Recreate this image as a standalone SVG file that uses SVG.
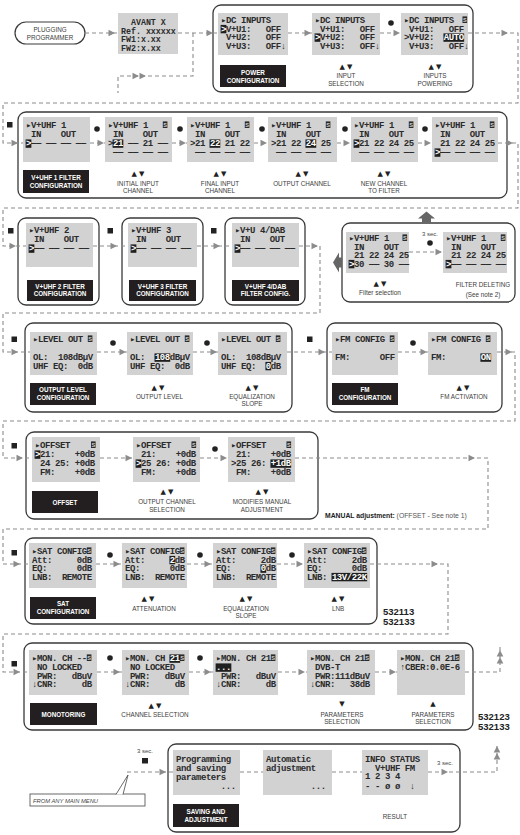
<svg xmlns="http://www.w3.org/2000/svg" xmlns:xlink="http://www.w3.org/1999/xlink" width="520" height="835" viewBox="0 0 520 835">
<style>
.scr{fill:#d2d2d2}
.t{font-family:"Liberation Mono","DejaVu Sans Mono",monospace;font-weight:bold;font-size:9px;letter-spacing:-0.42px;fill:#2b2b2b}
.s{font-size:8.3px;letter-spacing:0}
.w{fill:#fff}
.hl{fill:#1f1f1f}
.frm{fill:#fff;stroke:#3a3a3a;stroke-width:1.3}
.lb{fill:#231f20}
.lt{font-family:"Liberation Sans",Arial,sans-serif;font-weight:bold;font-size:6.3px;fill:#fff;text-anchor:middle}
.cap{font-family:"Liberation Sans",Arial,sans-serif;font-size:6.3px;fill:#3d3d3d;text-anchor:middle}
.ud{font-family:"DejaVu Sans",sans-serif;font-size:7px;fill:#222;text-anchor:middle}
.cn path{fill:none;stroke:#8c8c8c;stroke-width:1.1;stroke-dasharray:4 3}
.ah{fill:#8c8c8c}
.sq{fill:#222}
.num{font-family:"Liberation Sans",Arial,sans-serif;font-weight:bold;font-size:9.5px;fill:#222}
.sec{font-family:"Liberation Sans",Arial,sans-serif;font-size:6px;fill:#444;text-anchor:middle}
</style>
<defs>
<path id="a" class="ah" d="M-6.5,-3.3 L0,0 L-6.5,3.3 z"/>
<g id="ic"><rect width="4.6" height="6.6" fill="#2b2b2b"/><text x="2.3" y="5.5" font-family="Liberation Sans,sans-serif" font-weight="bold" font-size="5.6" fill="#d2d2d2" text-anchor="middle">S</text></g>
</defs>
<rect width="520" height="835" fill="#fff"/>

<!-- Row 1 -->
<g id="plugging">
<rect x="15" y="22" width="70" height="22" rx="11" fill="#fff" stroke="#3a3a3a" stroke-width="1.2"/>
<text class="cap" x="50" y="31.5">PLUGGING</text>
<text class="cap" x="50" y="39.5">PROGRAMMER</text>
</g>
<g id="avant" transform="translate(118,13)">
<rect class="scr" width="60" height="41"/>
<text class="t s" x="12.96" y="12">AVANT&#160;X</text>
<text class="t s" x="3" y="20.7">Ref.&#160;xxxxxx</text>
<text class="t s" x="3" y="29.4">FW1:x.xx</text>
<text class="t s" x="3" y="38.1">FW2:x.xx</text>
</g>
<g id="dc-inputs">
<rect class="frm" x="213" y="5" width="260" height="87" rx="8"/>
<g transform="translate(218,13)">
<rect class="scr" width="70" height="42"/>
<text class="t" x="3" y="10">▸DC&#160;INPUTS</text>
<rect class="hl" x="2.6" y="11.9" width="5.78" height="8.4"/><text class="t w" x="3" y="18.5">&gt;</text>
<text class="t" x="7.98" y="18.5">V+U1:&#160;&#160;&#160;OFF</text>
<text class="t" x="7.98" y="27">V+U2:&#160;&#160;&#160;OFF</text>
<text class="t" x="7.98" y="35.5">V+U3:&#160;&#160;&#160;OFF↓</text>
</g>
<rect class="lb" x="220" y="65" width="66" height="22"/>
<text class="lt" x="253" y="74.5">POWER</text>
<text class="lt" x="253" y="82.5">CONFIGURATION</text>
<g transform="translate(312,13)">
<rect class="scr" width="68" height="42"/>
<text class="t" x="3" y="10">▸DC&#160;INPUTS</text>
<text class="t" x="7.98" y="18.5">V+U1:&#160;&#160;&#160;OFF</text>
<rect class="hl" x="2.6" y="20.4" width="5.78" height="8.4"/><text class="t w" x="3" y="27">&gt;</text>
<text class="t" x="7.98" y="27">V+U2:&#160;&#160;&#160;OFF</text>
<text class="t" x="7.98" y="35.5">V+U3:&#160;&#160;&#160;OFF↓</text>
</g>
<text class="ud" x="346" y="69">▲ ▼</text>
<text class="cap" x="346" y="78">INPUT</text>
<text class="cap" x="346" y="85.5">SELECTION</text>
<circle cx="391" cy="23" r="2.8" class="sq"/>
<g transform="translate(401,13)">
<rect class="scr" width="67" height="42"/>
<text class="t" x="3" y="10">▸DC&#160;INPUTS</text><use href="#ic" x="61.5" y="3.4"/>
<text class="t" x="7.98" y="18.5">V+U1:&#160;&#160;&#160;OFF</text>
<text class="t" x="3" y="27">&gt;V+U2:</text>
<rect class="hl" x="42.44" y="20.4" width="20.72" height="8.4"/><text class="t w" x="42.84" y="27">AUTO</text>
<text class="t" x="7.98" y="35.5">V+U3:&#160;&#160;&#160;OFF↓</text>
</g>
<text class="ud" x="435" y="69">▲ ▼</text>
<text class="cap" x="435" y="78">INPUTS</text>
<text class="cap" x="435" y="85.5">POWERING</text>
</g>

<!-- Row 2 -->
<g id="uhf1">
<rect class="frm" x="18" y="112" width="489" height="86" rx="8"/>
<g transform="translate(23,117)">
<rect class="scr" width="67" height="45"/>
<text class="t" x="3" y="11">▸V+UHF&#160;1</text>
<text class="t" x="7.98" y="20">IN&#160;&#160;&#160;&#160;OUT</text>
<rect class="hl" x="2.6" y="22.4" width="5.78" height="8.4"/><text class="t w" x="3" y="29">&gt;</text>
<text class="t" x="7.98" y="29">——&#160;——&#160;——&#160;——</text>
</g>
<rect class="lb" x="23" y="170" width="66" height="23"/>
<text class="lt" x="56" y="179.5">V+UHF 1 FILTER</text>
<text class="lt" x="56" y="187.5">CONFIGURATION</text>
<circle cx="97" cy="129" r="2.8" class="sq"/>
<g transform="translate(105,117)">
<rect class="scr" width="67" height="45"/>
<text class="t" x="3" y="11">▸V+UHF&#160;1</text><use href="#ic" x="57.8" y="4.4"/>
<text class="t" x="7.98" y="20">IN&#160;&#160;&#160;&#160;OUT</text>
<text class="t" x="3" y="29">&gt;</text>
<rect class="hl" x="7.58" y="22.4" width="10.76" height="8.4"/><text class="t w" x="7.98" y="29">21</text>
<text class="t" x="22.92" y="29">——&#160;21&#160;——</text>
<text class="t" x="7.98" y="38">——&#160;——&#160;——&#160;——</text>
</g>
<text class="ud" x="138" y="175.5">▲ ▼</text>
<text class="cap" x="138" y="185.5">INITIAL INPUT</text>
<text class="cap" x="138" y="192.5">CHANNEL</text>
<circle cx="180" cy="129" r="2.8" class="sq"/>
<g transform="translate(187,117)">
<rect class="scr" width="67" height="45"/>
<text class="t" x="3" y="11">▸V+UHF&#160;1</text><use href="#ic" x="57.8" y="4.4"/>
<text class="t" x="7.98" y="20">IN&#160;&#160;&#160;&#160;OUT</text>
<text class="t" x="3" y="29">&gt;21</text>
<rect class="hl" x="22.52" y="22.4" width="10.76" height="8.4"/><text class="t w" x="22.92" y="29">22</text>
<text class="t" x="37.86" y="29">21&#160;22</text>
<text class="t" x="7.98" y="38">——&#160;——&#160;——&#160;——</text>
</g>
<text class="ud" x="220" y="175.5">▲ ▼</text>
<text class="cap" x="220" y="185.5">FINAL INPUT</text>
<text class="cap" x="220" y="192.5">CHANNEL</text>
<circle cx="262" cy="129" r="2.8" class="sq"/>
<g transform="translate(268,117)">
<rect class="scr" width="69" height="45"/>
<text class="t" x="3" y="11">▸V+UHF&#160;1</text><use href="#ic" x="57.8" y="4.4"/>
<text class="t" x="7.98" y="20">IN&#160;&#160;&#160;&#160;OUT</text>
<text class="t" x="3" y="29">&gt;21&#160;22</text>
<rect class="hl" x="37.46" y="22.4" width="10.76" height="8.4"/><text class="t w" x="37.86" y="29">24</text>
<text class="t" x="52.8" y="29">25</text>
<text class="t" x="7.98" y="38">——&#160;——&#160;——&#160;——</text>
</g>
<text class="ud" x="302" y="175.5">▲ ▼</text>
<text class="cap" x="302" y="185.5">OUTPUT CHANNEL</text>
<circle cx="345" cy="129" r="2.8" class="sq"/>
<g transform="translate(351,117)">
<rect class="scr" width="67" height="45"/>
<text class="t" x="3" y="11">▸V+UHF&#160;1</text><use href="#ic" x="57.8" y="4.4"/>
<text class="t" x="7.98" y="20">IN&#160;&#160;&#160;&#160;OUT</text>
<rect class="hl" x="2.6" y="22.4" width="5.78" height="8.4"/><text class="t w" x="3" y="29">&gt;</text>
<text class="t" x="7.98" y="29">21&#160;22&#160;24&#160;25</text>
<text class="t" x="7.98" y="38">——&#160;——&#160;——&#160;——</text>
</g>
<text class="ud" x="384" y="175.5">▲ ▼</text>
<text class="cap" x="384" y="185.5">NEW CHANNEL</text>
<text class="cap" x="384" y="192.5">TO FILTER</text>
<circle cx="425" cy="129" r="2.8" class="sq"/>
<g transform="translate(432,117)">
<rect class="scr" width="66" height="45"/>
<text class="t" x="3" y="11">▸V+UHF&#160;1</text><use href="#ic" x="57.8" y="4.4"/>
<text class="t" x="7.98" y="20">IN&#160;&#160;&#160;&#160;OUT</text>
<text class="t" x="7.98" y="29">21&#160;22&#160;24&#160;25</text>
<rect class="hl" x="2.6" y="31.4" width="5.78" height="8.4"/><text class="t w" x="3" y="38">&gt;</text>
<text class="t" x="7.98" y="38">——&#160;——&#160;——&#160;——</text>
</g>
</g>
<rect class="sq" x="7" y="122" width="5.5" height="5.5"/>

<!-- Row 3 -->
<g id="uhf2">
<rect class="frm" x="18" y="218" width="81" height="87" rx="8"/>
<g transform="translate(26,223)">
<rect class="scr" width="67" height="44"/>
<text class="t" x="3" y="10">▸V+UHF&#160;2</text>
<text class="t" x="7.98" y="19">IN&#160;&#160;&#160;&#160;OUT</text>
<rect class="hl" x="2.6" y="21.4" width="5.78" height="8.4"/><text class="t w" x="3" y="28">&gt;</text>
<text class="t" x="7.98" y="28">——&#160;——&#160;——&#160;——</text>
</g>
<rect class="lb" x="27" y="280" width="66" height="21"/>
<text class="lt" x="60" y="288.5">V+UHF 2 FILTER</text>
<text class="lt" x="60" y="296">CONFIGURATION</text>
</g>
<g id="uhf3">
<rect class="frm" x="122" y="218" width="81" height="87" rx="8"/>
<g transform="translate(128,223)">
<rect class="scr" width="69" height="44"/>
<text class="t" x="3" y="10">▸V+UHF&#160;3</text>
<text class="t" x="7.98" y="19">IN&#160;&#160;&#160;&#160;OUT</text>
<rect class="hl" x="2.6" y="21.4" width="5.78" height="8.4"/><text class="t w" x="3" y="28">&gt;</text>
<text class="t" x="7.98" y="28">——&#160;——&#160;——&#160;——</text>
</g>
<rect class="lb" x="129" y="280" width="67" height="21"/>
<text class="lt" x="162.5" y="288.5">V+UHF 3 FILTER</text>
<text class="lt" x="162.5" y="296">CONFIGURATION</text>
</g>
<g id="uhf4">
<rect class="frm" x="225" y="218" width="80" height="87" rx="8"/>
<g transform="translate(232,223)">
<rect class="scr" width="67" height="44"/>
<text class="t" x="3" y="10">▸V+U&#160;4/DAB</text>
<text class="t" x="7.98" y="19">IN&#160;&#160;&#160;&#160;OUT</text>
<rect class="hl" x="2.6" y="21.4" width="5.78" height="8.4"/><text class="t w" x="3" y="28">&gt;</text>
<text class="t" x="7.98" y="28">——&#160;——&#160;——&#160;——</text>
</g>
<rect class="lb" x="232" y="280" width="67" height="21"/>
<text class="lt" x="265.5" y="288.5">V+UHF 4/DAB</text>
<text class="lt" x="265.5" y="296">FILTER CONFIG.</text>
</g>
<rect class="sq" x="8" y="228" width="5.5" height="5.5"/>
<rect class="sq" x="107.5" y="228" width="5.5" height="5.5"/>
<rect class="sq" x="211" y="228" width="5.5" height="5.5"/>
<g id="filter-delete">
<rect class="frm" x="342" y="223" width="173" height="79" rx="8"/>
<g transform="translate(346,232)">
<rect class="scr" width="63" height="41"/>
<text class="t" x="3" y="9">▸V+UHF&#160;1</text><use href="#ic" x="56.5" y="2.4"/>
<text class="t" x="7.98" y="17.5">IN&#160;&#160;&#160;&#160;OUT</text>
<text class="t" x="7.98" y="26">21&#160;22&#160;24&#160;25</text>
<rect class="hl" x="2.6" y="27.9" width="5.78" height="8.4"/><text class="t w" x="3" y="34.5">&gt;</text>
<text class="t" x="7.98" y="34.5">30&#160;——&#160;30&#160;——</text>
</g>
<text class="sec" x="430" y="236">3 sec.</text>
<circle cx="430" cy="243" r="2.8" class="sq"/>
<g transform="translate(443,232)">
<rect class="scr" width="64" height="41"/>
<text class="t" x="3" y="9">▸V+UHF&#160;1</text><use href="#ic" x="57.8" y="2.4"/>
<text class="t" x="7.98" y="17.5">IN&#160;&#160;&#160;&#160;OUT</text>
<text class="t" x="7.98" y="26">21&#160;22&#160;24&#160;25</text>
<rect class="hl" x="2.6" y="27.9" width="5.78" height="8.4"/><text class="t w" x="3" y="34.5">&gt;</text>
<text class="t" x="7.98" y="34.5">——&#160;——&#160;——&#160;——</text>
</g>
<text class="ud" x="380" y="285.5">▲ ▼</text>
<text class="cap" x="380" y="295" style="font-size:6.5px">Filter selection</text>
<text class="cap" x="483" y="287">FILTER DELETING</text>
<text class="cap" x="483" y="296.5">(See note 2)</text>
<path d="M418,218.5 L426.5,211.5 L435,218.5 L431,218.5 L431,222.5 L422,222.5 L422,218.5 Z" fill="#666"/>
<path d="M333,262.5 L339,252.5 L339,257.5 L342,257.5 L342,267.5 L339,267.5 L339,272.5 Z" fill="#666"/>
</g>

<!-- Row 4 -->
<g id="level-out">
<rect class="frm" x="25" y="323" width="267" height="89" rx="8"/>
<g transform="translate(30,332)">
<rect class="scr" width="67" height="43"/>
<text class="t" x="3" y="10">▸LEVEL&#160;OUT</text><use href="#ic" x="57.8" y="3.4"/>
<text class="t" x="3" y="28">OL:&#160;&#160;108dBµV</text>
<text class="t" x="3" y="36.5">UHF&#160;EQ:&#160;&#160;0dB</text>
</g>
<rect class="lb" x="30" y="383" width="66" height="22"/>
<text class="lt" x="63" y="392">OUTPUT LEVEL</text>
<text class="lt" x="63" y="400">CONFIGURATION</text>
<circle cx="113" cy="343" r="2.8" class="sq"/>
<g transform="translate(127,332)">
<rect class="scr" width="66" height="43"/>
<text class="t" x="3" y="10">▸LEVEL&#160;OUT</text><use href="#ic" x="57.8" y="3.4"/>
<text class="t" x="3" y="28">OL:</text>
<rect class="hl" x="27.5" y="21.4" width="15.74" height="8.4"/><text class="t w" x="27.9" y="28">108</text>
<text class="t" x="42.84" y="28">dBµV</text>
<text class="t" x="3" y="36.5">UHF&#160;EQ:&#160;&#160;0dB</text>
</g>
<text class="ud" x="158" y="389.5">▲ ▼</text>
<text class="cap" x="159.5" y="398.5">OUTPUT LEVEL</text>
<circle cx="207" cy="343" r="2.8" class="sq"/>
<g transform="translate(218,332)">
<rect class="scr" width="69" height="43"/>
<text class="t" x="3" y="10">▸LEVEL&#160;OUT</text><use href="#ic" x="57.8" y="3.4"/>
<text class="t" x="3" y="28">OL:&#160;&#160;108dBµV</text>
<text class="t" x="3" y="36.5">UHF&#160;EQ:</text>
<rect class="hl" x="47.42" y="29.9" width="5.78" height="8.4"/><text class="t w" x="47.82" y="36.5">0</text>
<text class="t" x="52.8" y="36.5">dB</text>
</g>
<text class="ud" x="252" y="389.5">▲ ▼</text>
<text class="cap" x="252" y="398.5">EQUALIZATION</text>
<text class="cap" x="252" y="405.5">SLOPE</text>
</g>
<g id="fm-config">
<rect class="frm" x="327" y="323" width="175" height="89" rx="8"/>
<g transform="translate(332,332)">
<rect class="scr" width="66" height="43"/>
<text class="t" x="3" y="10">▸FM&#160;CONFIG</text><use href="#ic" x="57.8" y="3.4"/>
<text class="t" x="3" y="28">FM:&#160;&#160;&#160;&#160;&#160;&#160;OFF</text>
</g>
<rect class="lb" x="332" y="383" width="66" height="22"/>
<text class="lt" x="365" y="392">FM</text>
<text class="lt" x="365" y="400">CONFIGURATION</text>
<circle cx="413" cy="343" r="2.8" class="sq"/>
<g transform="translate(428,332)">
<rect class="scr" width="69" height="43"/>
<text class="t" x="3" y="10">▸FM&#160;CONFIG</text><use href="#ic" x="57.8" y="3.4"/>
<text class="t" x="3" y="28">FM:</text>
<rect class="hl" x="52.4" y="21.4" width="10.76" height="8.4"/><text class="t w" x="52.8" y="28">ON</text>
</g>
<text class="ud" x="463" y="389.5">▲ ▼</text>
<text class="cap" x="464" y="398.5">FM ACTIVATION</text>
</g>
<rect class="sq" x="11.5" y="336.5" width="5.5" height="5.5"/>
<rect class="sq" x="307" y="336.5" width="5.5" height="5.5"/>

<!-- Row 5 -->
<g id="offset">
<rect class="frm" x="26" y="432" width="292" height="87" rx="8"/>
<g transform="translate(32,437)">
<rect class="scr" width="68" height="45"/>
<text class="t" x="3" y="11">▸OFFSET</text><use href="#ic" x="59" y="4.4"/>
<rect class="hl" x="2.6" y="13.4" width="5.78" height="8.4"/><text class="t w" x="3" y="20">&gt;</text>
<text class="t" x="7.98" y="20">21:&#160;&#160;&#160;&#160;+0dB</text>
<text class="t" x="7.98" y="29">24&#160;25:&#160;+0dB</text>
<text class="t" x="7.98" y="38">FM:&#160;&#160;&#160;&#160;+0dB</text>
</g>
<rect class="lb" x="32" y="491" width="66" height="22"/>
<text class="lt" x="65" y="504.5">OFFSET</text>
<g transform="translate(133,437)">
<rect class="scr" width="67" height="45"/>
<text class="t" x="3" y="11">▸OFFSET</text><use href="#ic" x="58.5" y="4.4"/>
<text class="t" x="7.98" y="20">21:&#160;&#160;&#160;&#160;+0dB</text>
<rect class="hl" x="2.6" y="22.4" width="5.78" height="8.4"/><text class="t w" x="3" y="29">&gt;</text>
<text class="t" x="7.98" y="29">25&#160;26:&#160;+0dB</text>
<text class="t" x="7.98" y="38">FM:&#160;&#160;&#160;&#160;+0dB</text>
</g>
<text class="ud" x="167" y="494">▲ ▼</text>
<text class="cap" x="167" y="504">OUTPUT CHANNEL</text>
<text class="cap" x="167" y="511.5">SELECTION</text>
<circle cx="215" cy="449" r="2.8" class="sq"/>
<g transform="translate(228,437)">
<rect class="scr" width="67" height="45"/>
<text class="t" x="3" y="11">▸OFFSET</text><use href="#ic" x="58.5" y="4.4"/>
<text class="t" x="7.98" y="20">21:&#160;&#160;&#160;&#160;+0dB</text>
<text class="t" x="3" y="29">&gt;25&#160;26:</text>
<rect class="hl" x="42.44" y="22.4" width="20.72" height="8.4"/><text class="t w" x="42.84" y="29">+1dB</text>
<text class="t" x="7.98" y="38">FM:&#160;&#160;&#160;&#160;+0dB</text>
</g>
<text class="ud" x="262" y="494">▲ ▼</text>
<text class="cap" x="262" y="504">MODIFIES MANUAL</text>
<text class="cap" x="262" y="511.5">ADJUSTMENT</text>
</g>
<rect class="sq" x="11.5" y="443" width="5.5" height="5.5"/>
<text x="325" y="517.5" font-family="Liberation Sans,Arial,sans-serif" font-size="6.8" fill="#555"><tspan font-weight="bold" fill="#222">MANUAL adjustment:</tspan> (OFFSET - See note 1)</text>

<!-- Row 6 -->
<g id="sat-config">
<rect class="frm" x="25" y="538" width="352" height="86" rx="8"/>
<g transform="translate(29,543)">
<rect class="scr" width="67" height="45"/>
<text class="t" x="3" y="11">▸SAT&#160;CONFIG</text><use href="#ic" x="57.8" y="4.4"/>
<text class="t" x="3" y="19.5">Att:&#160;&#160;&#160;&#160;&#160;0dB</text>
<text class="t" x="3" y="28">EQ:&#160;&#160;&#160;&#160;&#160;&#160;0dB</text>
<text class="t" x="3" y="36.5">LNB:&#160;&#160;REMOTE</text>
</g>
<rect class="lb" x="30" y="597" width="66" height="22"/>
<text class="lt" x="63" y="606">SAT</text>
<text class="lt" x="63" y="614">CONFIGURATION</text>
<circle cx="110" cy="555" r="2.8" class="sq"/>
<g transform="translate(122,543)">
<rect class="scr" width="65" height="45"/>
<text class="t" x="3" y="11">▸SAT&#160;CONFIG</text><use href="#ic" x="57.8" y="4.4"/>
<text class="t" x="3" y="19.5">Att:</text>
<rect class="hl" x="47.42" y="12.9" width="5.78" height="8.4"/><text class="t w" x="47.82" y="19.5">2</text>
<text class="t" x="52.8" y="19.5">dB</text>
<text class="t" x="3" y="28">EQ:&#160;&#160;&#160;&#160;&#160;&#160;0dB</text>
<text class="t" x="3" y="36.5">LNB:&#160;&#160;REMOTE</text>
</g>
<text class="ud" x="148" y="600.5">▲ ▼</text>
<text class="cap" x="154" y="610.5">ATTENUATION</text>
<circle cx="200" cy="555" r="2.8" class="sq"/>
<g transform="translate(213,543)">
<rect class="scr" width="64" height="45"/>
<text class="t" x="3" y="11">▸SAT&#160;CONFIG</text><use href="#ic" x="57.8" y="4.4"/>
<text class="t" x="3" y="19.5">Att:&#160;&#160;&#160;&#160;&#160;2dB</text>
<text class="t" x="3" y="28">EQ:</text>
<rect class="hl" x="47.42" y="21.4" width="5.78" height="8.4"/><text class="t w" x="47.82" y="28">0</text>
<text class="t" x="52.8" y="28">dB</text>
<text class="t" x="3" y="36.5">LNB:&#160;&#160;REMOTE</text>
</g>
<text class="ud" x="246" y="600.5">▲ ▼</text>
<text class="cap" x="246" y="610.5">EQUALIZATION</text>
<text class="cap" x="246" y="617.5">SLOPE</text>
<circle cx="292" cy="555" r="2.8" class="sq"/>
<g transform="translate(304,543)">
<rect class="scr" width="66" height="45"/>
<text class="t" x="3" y="11">▸SAT&#160;CONFIG</text><use href="#ic" x="57.8" y="4.4"/>
<text class="t" x="3" y="19.5">Att:&#160;&#160;&#160;&#160;&#160;2dB</text>
<text class="t" x="3" y="28">EQ:&#160;&#160;&#160;&#160;&#160;&#160;0dB</text>
<text class="t" x="3" y="36.5">LNB:</text>
<rect class="hl" x="27.5" y="29.9" width="35.66" height="8.4"/><text class="t w" x="27.9" y="36.5">13V/22K</text>
</g>
<text class="ud" x="338" y="600.5">▲ ▼</text>
<text class="cap" x="338" y="610.5">LNB</text>
</g>
<rect class="sq" x="11.5" y="550" width="5.5" height="5.5"/>
<text class="num" x="383" y="614.5">532113</text>
<text class="num" x="383" y="624.5">532133</text>

<!-- Row 7 -->
<g id="monitoring">
<rect class="frm" x="24" y="643" width="449" height="87" rx="8"/>
<g transform="translate(29,650)">
<rect class="scr" width="68" height="45"/>
<text class="t" x="3" y="11">▸MON.&#160;CH&#160;--</text><use href="#ic" x="57.8" y="4.4"/>
<text class="t" x="7.98" y="20">NO&#160;LOCKED</text>
<text class="t" x="7.98" y="28.5">PWR:&#160;&#160;&#160;dBuV</text>
<text class="t" x="3" y="37">↓CNR:&#160;&#160;&#160;&#160;&#160;dB</text>
</g>
<rect class="lb" x="30" y="703" width="67" height="22"/>
<text class="lt" x="63.5" y="716.5">MONOTORING</text>
<circle cx="110" cy="658" r="2.8" class="sq"/>
<g transform="translate(122,650)">
<rect class="scr" width="67" height="45"/>
<text class="t" x="3" y="11">▸MON.&#160;CH</text>
<rect class="hl" x="47.42" y="4.4" width="10.76" height="8.4"/><text class="t w" x="47.82" y="11">21</text><use href="#ic" x="57.8" y="4.4"/>
<text class="t" x="7.98" y="20">NO&#160;LOCKED</text>
<text class="t" x="7.98" y="28.5">PWR:&#160;&#160;&#160;dBuV</text>
<text class="t" x="3" y="37">↓CNR:&#160;&#160;&#160;&#160;&#160;dB</text>
</g>
<text class="ud" x="155" y="707.5">▲ ▼</text>
<text class="cap" x="155" y="716.5">CHANNEL SELECTION</text>
<circle cx="200" cy="658" r="2.8" class="sq"/>
<g transform="translate(213,650)">
<rect class="scr" width="65" height="45"/>
<text class="t" x="3" y="11">▸MON.&#160;CH&#160;21</text><use href="#ic" x="57.8" y="4.4"/>
<rect class="hl" x="2.6" y="13.4" width="15.74" height="8.4"/><text class="t w" x="3" y="20">...</text>
<text class="t" x="7.98" y="28.5">PWR:&#160;&#160;&#160;dBuV</text>
<text class="t" x="3" y="37">↓CNR:&#160;&#160;&#160;&#160;&#160;dB</text>
</g>
<g transform="translate(307,650)">
<rect class="scr" width="68" height="45"/>
<text class="t" x="3" y="11">▸MON.&#160;CH&#160;21</text><use href="#ic" x="57.8" y="4.4"/>
<text class="t" x="7.98" y="20">DVB-T</text>
<text class="t" x="7.98" y="28.5">PWR:111dBuV</text>
<text class="t" x="3" y="37">↓CNR:&#160;&#160;&#160;38dB</text>
</g>
<text class="ud" x="342" y="705.5">▼</text>
<text class="cap" x="342" y="716.5">PARAMETERS</text>
<text class="cap" x="342" y="724">SELECTION</text>
<g transform="translate(397,650)">
<rect class="scr" width="68" height="45"/>
<text class="t" x="3" y="11">▸MON.&#160;CH&#160;21</text><use href="#ic" x="57.8" y="4.4"/>
<text class="t" x="3" y="20">↑CBER:0.0E-6</text>
</g>
<text class="ud" x="433" y="705.5">▲</text>
<text class="cap" x="433" y="716.5">PARAMETERS</text>
<text class="cap" x="433" y="724">SELECTION</text>
</g>
<rect class="sq" x="11.5" y="661" width="5.5" height="5.5"/>
<text class="num" x="478" y="719.5">532123</text>
<text class="num" x="478" y="729.5">532133</text>

<!-- Row 8 -->
<g id="saving">
<rect class="frm" x="168" y="744" width="292" height="88" rx="8"/>
<g transform="translate(173,750)">
<rect class="scr" width="67" height="45"/>
<text class="t" x="3" y="12">Programming</text>
<text class="t" x="3" y="21">and&#160;saving</text>
<text class="t" x="3" y="30">parameters</text>
<text class="t" x="47.82" y="39">...</text>
</g>
<rect class="lb" x="173" y="804" width="66" height="23"/>
<text class="lt" x="206" y="813.5">SAVING AND</text>
<text class="lt" x="206" y="821.5">ADJUSTMENT</text>
<g transform="translate(263,750)">
<rect class="scr" width="69" height="45"/>
<text class="t" x="3" y="12">Automatic</text>
<text class="t" x="3" y="21">adjustment</text>
<text class="t" x="47.82" y="39">...</text>
</g>
<g transform="translate(362,750)">
<rect class="scr" width="66" height="45"/>
<text class="t" x="3" y="12">INFO&#160;STATUS</text>
<text class="t" x="12.96" y="20.7">V+UHF&#160;FM</text>
<text class="t" x="3" y="29.4">1&#160;2&#160;3&#160;4</text>
<text class="t" x="3" y="38.5">-&#160;-&#160;ø&#160;ø&#160;&#160;↓</text>
</g>
<text class="cap" x="395" y="819">RESULT</text>
</g>
<text class="sec" x="145" y="753">3 sec.</text>
<rect class="sq" x="142" y="758" width="6" height="5.5"/>
<text class="sec" x="445" y="764.5">3 sec.</text>
<g id="callout">
<rect x="30" y="794" width="115" height="12" fill="#fff" stroke="#444" stroke-width="0.8"/>
<path d="M116,794.4 L128,775 L123,794.4" fill="#fff" stroke="#444" stroke-width="0.8"/>
<text x="33" y="802.5" font-family="Liberation Sans,Arial,sans-serif" font-style="italic" font-size="5.8" fill="#444">FROM ANY MAIN MENU</text>
</g>

<!-- Connectors -->
<g id="connectors" class="cn">
<path d="M85,33 H118"/>
<path d="M178,33 H218"/>
<path d="M193,33 V76 H118 V93"/>
<path d="M288,33 H312"/>
<path d="M380,33 H401"/>
<path d="M468,33 H518 V103 H3 V143 H23"/>
<path d="M90,143 H105"/>
<path d="M172,143 H187"/>
<path d="M254,143 H268"/>
<path d="M337,143 H351"/>
<path d="M418,143 H432"/>
<path d="M498,143 H518 V208 H3 V246 H26"/>
<path d="M93,246 H128"/>
<path d="M197,246 H232"/>
<path d="M299,246 H320 V313 H3 V352 H30"/>
<path d="M409,252 H443"/>
<path d="M97,352 H127"/>
<path d="M193,352 H218"/>
<path d="M287,352 H332"/>
<path d="M398,352 H428"/>
<path d="M497,352 H515 V421 H3 V458 H32"/>
<path d="M100,458 H133"/>
<path d="M200,458 H228"/>
<path d="M295,458 H488 V529 H3 V564 H29"/>
<path d="M96,564 H122"/>
<path d="M187,564 H213"/>
<path d="M277,564 H304"/>
<path d="M370,564 H448 V634 H3 V672 H29"/>
<path d="M97,672 H122"/>
<path d="M189,672 H213"/>
<path d="M278,672 H307"/>
<path d="M375,672 H397"/>
<path d="M465,672 H500 V646"/>
<path d="M127,772 H173"/>
<path d="M240,772 H263"/>
<path d="M332,772 H362"/>
<path d="M428,772 H497 V744"/>
<use href="#a" x="115" y="33"/>
<use href="#a" x="213" y="33"/>
<use href="#a" x="139" y="76"/>
<use href="#a" x="146" y="76"/>
<use href="#a" x="311" y="33"/>
<use href="#a" x="400" y="33"/>
<use href="#a" x="508" y="33"/>
<use href="#a" x="18" y="143"/>
<use href="#a" x="104" y="143"/>
<use href="#a" x="186" y="143"/>
<use href="#a" x="267" y="143"/>
<use href="#a" x="350" y="143"/>
<use href="#a" x="431" y="143"/>
<use href="#a" x="513" y="143"/>
<use href="#a" x="16" y="246"/>
<use href="#a" x="117" y="246"/>
<use href="#a" x="220" y="246"/>
<use href="#a" x="318" y="246"/>
<use href="#a" x="442" y="252"/>
<use href="#a" x="18" y="352"/>
<use href="#a" x="126" y="352"/>
<use href="#a" x="217" y="352"/>
<use href="#a" x="325" y="352"/>
<use href="#a" x="427" y="352"/>
<use href="#a" x="512" y="352"/>
<use href="#a" x="23" y="458"/>
<use href="#a" x="132" y="458"/>
<use href="#a" x="227" y="458"/>
<use href="#a" x="475" y="458"/>
<use href="#a" x="20" y="564"/>
<use href="#a" x="120" y="564"/>
<use href="#a" x="211" y="564"/>
<use href="#a" x="303" y="564"/>
<use href="#a" x="438" y="564"/>
<use href="#a" x="20" y="672"/>
<use href="#a" x="120" y="672"/>
<use href="#a" x="211" y="672"/>
<use href="#a" x="305" y="672"/>
<use href="#a" x="396" y="672"/>
<use href="#a" transform="translate(500,650) rotate(-90)"/>
<use href="#a" transform="translate(500,657) rotate(-90)"/>
<use href="#a" x="166" y="772"/>
<use href="#a" x="448" y="772"/>
<use href="#a" transform="translate(497,746) rotate(-90)"/>
<use href="#a" transform="translate(497,753) rotate(-90)"/>
</g>
</svg>
